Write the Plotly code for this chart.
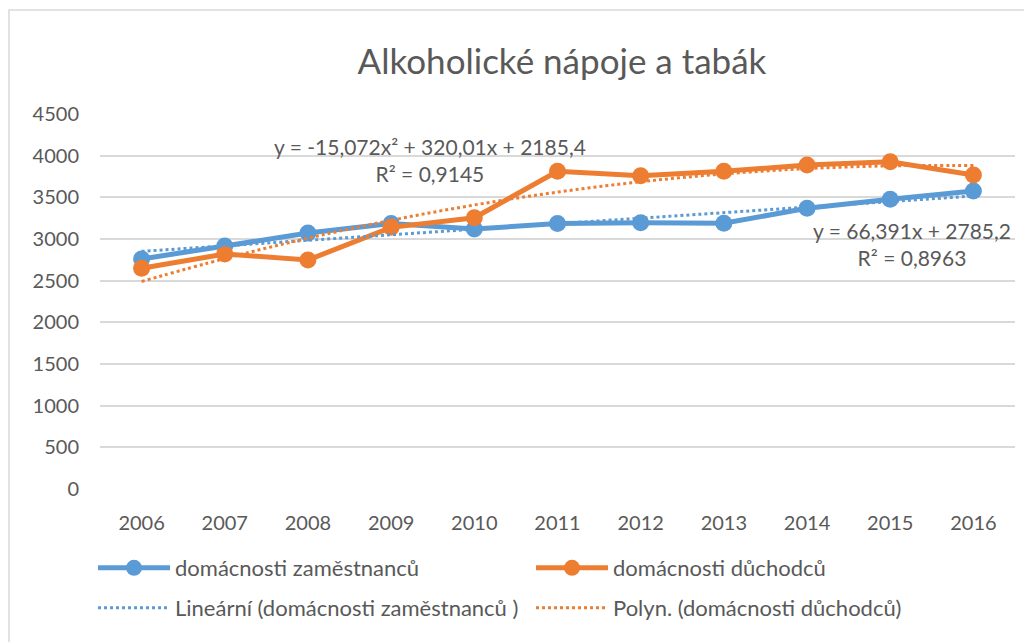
import plotly.graph_objects as go

years = ["2006", "2007", "2008", "2009", "2010", "2011", "2012", "2013", "2014", "2015", "2016"]
zamestnanci = [2760, 2916, 3072, 3185, 3120, 3185, 3196, 3190, 3368, 3476, 3576]
duchodci = [2648, 2820, 2748, 3140, 3255, 3812, 3760, 3812, 3888, 3928, 3768]

# trendline coefficients as displayed in the chart (x = 1..11)
lin_coef = [66.391, 2785.2]
poly_coef = [-15.072, 320.01, 2185.4]

y_ticks = [0, 500, 1000, 1500, 2000, 2500, 3000, 3500, 4000, 4500]

blue = "#5B9BD5"
orange = "#ED7D31"
grey_txt = "#595959"
FONT = "Lato"

xs = list(range(1, len(years) + 1))
lin_vals = [lin_coef[0] * x + lin_coef[1] for x in xs]
poly_vals = [poly_coef[0] * x * x + poly_coef[1] * x + poly_coef[2] for x in xs]

fig = go.Figure()
fig.add_trace(go.Scatter(x=xs, y=zamestnanci, mode="lines+markers", name="domácnosti zaměstnanců",
                         line=dict(color=blue, width=5), marker=dict(size=17, color=blue), legend="legend"))
fig.add_trace(go.Scatter(x=xs, y=duchodci, mode="lines+markers", name="domácnosti důchodců",
                         line=dict(color=orange, width=5), marker=dict(size=17, color=orange), legend="legend"))
fig.add_trace(go.Scatter(x=xs, y=lin_vals, mode="lines", name="Lineární (domácnosti zaměstnanců )",
                         line=dict(color=blue, width=3, dash="dot"), legend="legend2"))
fig.add_trace(go.Scatter(x=xs, y=poly_vals, mode="lines", name="Polyn. (domácnosti důchodců)",
                         line=dict(color=orange, width=3, dash="dot", shape="spline"), legend="legend2"))

# page body has an 8px margin: figure origin sits at screen (8, 8)
OFF = 8
W, H = 1024, 634
L, T = 100 - OFF, 114 - OFF
R = W - (1015 - OFF)
B = H - (489 - OFF)
pw, ph = W - L - R, H - T - B

def px(sx):
    return (sx - OFF - L) / pw

def py(sy):
    return (H - B - (sy - OFF)) / ph

fig.add_shape(type="rect", xref="paper", yref="paper",
              x0=px(9), x1=px(1045), y0=py(660), y1=py(10),
              line=dict(color="#D9D9D9", width=1.5), fillcolor="rgba(0,0,0,0)", layer="below")

ann_font = dict(family=FONT, size=21, color=grey_txt)
fig.add_annotation(xref="paper", yref="paper", x=px(430), y=py(160), xanchor="center", yanchor="middle",
                   text="y = -15,072x² + 320,01x + 2185,4<br>R² = 0,9145", showarrow=False,
                   font=ann_font, align="center")
fig.add_annotation(xref="paper", yref="paper", x=px(912), y=py(244), xanchor="center", yanchor="middle",
                   text="y = 66,391x + 2785,2<br>R² = 0,8963", showarrow=False,
                   font=ann_font, align="center")

leg_common = dict(orientation="h", xanchor="left", yanchor="middle", entrywidth=351,
                  itemwidth=72, itemsizing="trace",
                  font=dict(family=FONT, size=22, color=grey_txt), bgcolor="rgba(0,0,0,0)")

fig.update_layout(
    width=W, height=H,
    margin=dict(l=L, r=R, t=T, b=B, autoexpand=False),
    paper_bgcolor="white", plot_bgcolor="white",
    title=dict(text="Alkoholické nápoje a tabák", x=px(562), xanchor="center", y=1 - (62 - OFF) / H,
               yanchor="middle", xref="paper", font=dict(family=FONT, size=35, color=grey_txt)),
    font=dict(family=FONT, size=20, color=grey_txt),
    xaxis=dict(range=[0.5, 11.5], tickmode="array", tickvals=xs, ticktext=years, showgrid=False,
               zeroline=False, showline=False, ticks="", ticklabelstandoff=20,
               tickfont=dict(family=FONT, size=20, color=grey_txt)),
    yaxis=dict(range=[0, 4500], tickmode="array", tickvals=y_ticks, showgrid=True, gridcolor="#D9D9D9",
               gridwidth=1.5, zeroline=False, showline=False, ticks="", ticklabelstandoff=20,
               tickfont=dict(family=FONT, size=20, color=grey_txt)),
    legend=dict(x=px(93), y=py(568), **leg_common),
    legend2=dict(x=px(93), y=py(608), **leg_common),
    showlegend=True,
)

fig.write_html("out.html")
